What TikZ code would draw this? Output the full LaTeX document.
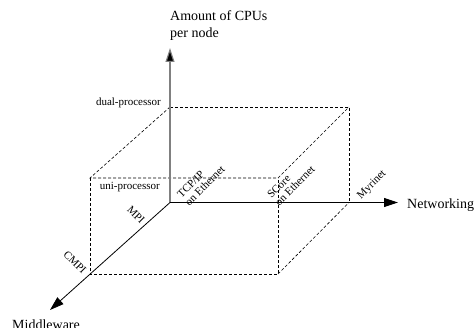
\documentclass[tikz,border=0pt]{standalone}
\usepackage{fontspec}
\setmainfont{Liberation Serif}
\usetikzlibrary{arrows.meta}
\begin{document}
\begin{tikzpicture}[x=1pt,y=-1pt,
  axis/.style={line width=0.8pt,-{Triangle[length=14pt,width=9pt]}},
  box/.style={dashed,dash pattern=on 3pt off 2pt,line width=0.6pt},
  big/.style={font=\fontsize{14}{17}\selectfont,inner sep=0pt},
  small/.style={font=\fontsize{11}{11}\selectfont,inner sep=0pt}]
\useasboundingbox (0,0) rectangle (476,328);
% corner coordinates
\coordinate (O) at (170,202.5);
\coordinate (Ytop) at (170,48);
\coordinate (Xend) at (398,202.5);
\coordinate (Zend) at (50,310);
\coordinate (A) at (170,107);
\coordinate (B) at (349,107);
\coordinate (C) at (90,178);
\coordinate (D) at (278,178);
\coordinate (E) at (349,202.5);
\coordinate (F) at (90,274);
\coordinate (G) at (278,274);
% dashed box
\draw[box] (A) -- (B) -- (E);
\draw[box] (A) -- (C) -- (D) -- (B);
\draw[box] (C) -- (F) -- (G) -- (D);
\draw[box] (G) -- (E);
% axes
\draw[axis,draw=gray,line width=1.1pt,-{Triangle[length=14pt,width=9pt,fill=black]}] (O) -- (Ytop);
\draw[axis] (O) -- (Xend);
\draw[axis] (O) -- (Zend);
% axis labels
\node[big,anchor=south west,align=left] (ly) at (170,41) {Amount of CPUs\\per node};
\node[big,anchor=west] (lx) at (407,205) {Networking};
\node[big,anchor=west] (lz) at (12,325) {Middleware};
% level labels
\node[small,anchor=east] (dual) at (161,103) {dual-processor};
\node[small,anchor=east] (uni) at (160,187) {uni-processor};
% network labels
\node[small,rotate=45,align=left] (tcp) at (201,182) {TCP/IP\\on Ethernet};
\node[small,rotate=45,align=left] (score) at (291,182) {SCore\\on Ethernet};
\node[small,rotate=45] (myr) at (372,185) {Myrinet};
% middleware labels
\node[small,rotate=-45] (mpi) at (136,215) {MPI};
\node[small,rotate=-45] (cmpi) at (75,262) {CMPI};
\end{tikzpicture}
\end{document}
